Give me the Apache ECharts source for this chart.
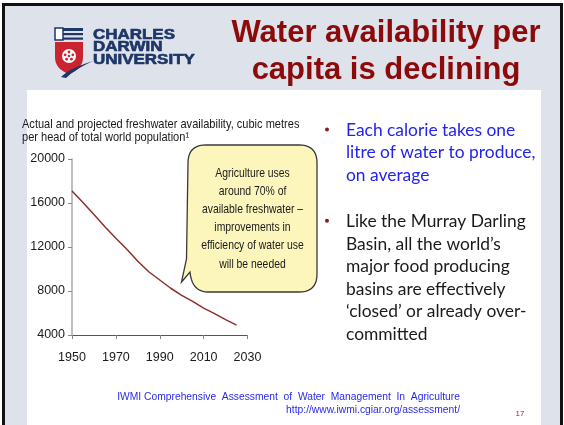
<!DOCTYPE html>
<html>
<head>
<meta charset="utf-8">
<script src="https://cdn.jsdelivr.net/npm/echarts@6/dist/echarts.min.js"></script>
<style>
html,body{margin:0;padding:0;background:#fff;}
#c{width:564px;height:425px;}
</style>
</head>
<body>
<div id="c"></div>
<script>
// ---- data ----
const years = [1950, 1955, 1960, 1965, 1970, 1975, 1980, 1985, 1990, 1995, 2000, 2005, 2010, 2015, 2020, 2025];
const availability = [17100, 16050, 14950, 13850, 12800, 11800, 10700, 9750, 9000, 8250, 7600, 7050, 6450, 5950, 5400, 4900];
const yTicks = [4000, 8000, 12000, 16000, 20000];
const xTicks = [1950, 1970, 1990, 2010, 2030];
const titleLines = ['Water availability per', 'capita is declining'];
const chartTitleLines = ['Actual and projected freshwater availability, cubic metres', 'per head of total world population\u00B9'];
const calloutLines = ['Agriculture uses', 'around 70% of', 'available freshwater \u2013', 'improvements in', 'efficiency of water use', 'will be needed'];
const bullet1 = ['Each calorie takes one', 'litre of water to produce,', 'on average'];
const bullet2 = ['Like the Murray Darling', 'Basin, all the world\u2019s', 'major food producing', 'basins are effectively', '\u2018closed\u2019 or already over-', 'committed'];
const footerLines = ['IWMI Comprehensive  Assessment  of  Water  Management  In  Agriculture', 'http://www.iwmi.cgiar.org/assessment/'];
const pageNumber = '17';

const NAVY = '#1d3567';
const narrow = "'Liberation Sans Narrow','Arial Narrow','Liberation Sans',Arial,sans-serif";

// helper: build polygon points from segments [['M',x,y],['L',x,y],['Q',cx,cy,x,y]]
function pts(segs){
  const out=[]; let cur=[0,0];
  segs.forEach(s=>{
    if(s[0]==='M'||s[0]==='L'){cur=[s[1],s[2]]; out.push(cur);}
    else if(s[0]==='Q'){
      const p0=cur, c=[s[1],s[2]], p1=[s[3],s[4]];
      for(let i=1;i<=10;i++){const t=i/10, u=1-t;
        out.push([u*u*p0[0]+2*u*t*c[0]+t*t*p1[0], u*u*p0[1]+2*u*t*c[1]+t*t*p1[1]]);}
      cur=p1;
    }
  });
  return out;
}

const g = [];
// slide background
g.push({type:'rect', z:-10, shape:{x:0,y:0,width:564,height:425}, style:{fill:'#ffffff'}});
g.push({type:'rect', z:-10, shape:{x:2,y:3,width:561,height:422}, style:{fill:'#111111'}});
g.push({type:'rect', z:-10, shape:{x:5,y:6,width:555,height:419}, style:{fill:'#dee2eb'}});
g.push({type:'rect', z:-10, shape:{x:27,y:90,width:514,height:335}, style:{fill:'#ffffff'}});

// logo
g.push({type:'rect', z:5, shape:{x:55,y:28,width:28,height:3}, style:{fill:NAVY}});
g.push({type:'rect', z:5, shape:{x:55,y:28,width:8,height:12}, style:{fill:'#fff', stroke:NAVY, lineWidth:1.5}});
g.push({type:'rect', z:5, shape:{x:63,y:33,width:20,height:2.2}, style:{fill:NAVY}});
g.push({type:'rect', z:5, shape:{x:63,y:37.5,width:20,height:2.2}, style:{fill:NAVY}});
g.push({type:'polygon', z:5, shape:{points:pts([['M',55,42],['L',83,42],['L',83,57],['Q',83,69,69,74],['Q',55,69,55,57]])}, style:{fill:'#c9242f'}});
g.push({type:'circle', z:6, shape:{cx:69,cy:56,r:7}, style:{fill:'#fff'}});
[[0,-4],[3.8,-1.2],[2.4,3.2],[-2.4,3.2],[-3.8,-1.2]].forEach(p=>{
  g.push({type:'circle', z:7, shape:{cx:69+p[0],cy:56+p[1],r:1.4}, style:{fill:'#c9242f'}});
});
g.push({type:'circle', z:7, shape:{cx:69,cy:56,r:1.3}, style:{fill:'#c9242f'}});
g.push({type:'polygon', z:5, shape:{points:pts([['M',61,77],['Q',70,68,93,61],['Q',74,70,66,78]])}, style:{fill:NAVY}});
[['CHARLES',42],['DARWIN',54.5],['UNIVERSITY',67]].forEach(t=>{
  g.push({type:'text', z:5, x:93, y:t[1], scaleX:1.17, style:{x:0,y:0,text:t[0], font:"900 14.5px 'Liberation Sans',Arial,sans-serif", fill:NAVY, stroke:NAVY, lineWidth:0.6, textAlign:'left', textVerticalAlign:'bottom'}});
});

// slide title
titleLines.forEach((t,i)=>{
  g.push({type:'text', z:5, style:{x:386, y:49+i*37, text:t, font:"bold 31px 'Liberation Sans',Arial,sans-serif", fill:'#8c0a0a', textAlign:'center', textVerticalAlign:'bottom'}});
});

// chart title
chartTitleLines.forEach((t,i)=>{
  g.push({type:'text', z:5, x:22, y:124+i*13, scaleX:0.85, style:{x:0,y:0,text:t, font:"13px 'Liberation Sans',Arial,sans-serif", fill:'#1a1a1a', textAlign:'left', textVerticalAlign:'middle'}});
});

// callout bubble
g.push({type:'polygon', z:20, shape:{points:pts([['M',206,145],['L',299,145],['Q',317,145,317,163],['L',317,274],['Q',317,292,299,292],['L',208,292],['Q',192,292,190,272],['L',181.5,282],['L',186.5,259],['L',188,163],['Q',188,145,206,145]])},
  style:{fill:'#fcf6bd', stroke:'#3a3a3a', lineWidth:1.3}});
calloutLines.forEach((t,i)=>{
  g.push({type:'text', z:21, x:252.5, y:173+i*18.2, scaleX:0.8, style:{x:0,y:0,text:t, font:"13px 'Liberation Sans',Arial,sans-serif", fill:'#1a1a1a', textAlign:'center', textVerticalAlign:'middle'}});
});

// bullets
const bulletFont = "17.4px Lato,'Open Sans',sans-serif";
bullet1.forEach((t,i)=>{
  g.push({type:'text', z:5, style:{x:346, y:130+i*22.8, text:t, font:bulletFont, fill:'#2323ee', textAlign:'left', textVerticalAlign:'middle'}});
});
bullet2.forEach((t,i)=>{
  g.push({type:'text', z:5, style:{x:346, y:221.7+i*22.5, text:t, font:bulletFont, fill:'#1a1a1a', textAlign:'left', textVerticalAlign:'middle'}});
});
[129.5, 220.8].forEach(y=>{
  g.push({type:'circle', z:5, shape:{cx:327,cy:y,r:2}, style:{fill:'#8b1a1a'}});
});

// footer
footerLines.forEach((t,i)=>{
  g.push({type:'text', z:5, x:460, y:397+i*12.5, scaleX:0.895, style:{x:0,y:0,text:t, font:"11.5px 'Liberation Sans',Arial,sans-serif", fill:'#2a2aee', textAlign:'right', textVerticalAlign:'middle'}});
});
g.push({type:'text', z:5, style:{x:520, y:414, text:pageNumber, font:"8px 'Liberation Sans',Arial,sans-serif", fill:'#8b2a2a', textAlign:'center', textVerticalAlign:'middle'}});

const chart = echarts.init(document.getElementById('c'), null, {renderer:'canvas'});
chart.setOption({
  animation:false,
  backgroundColor:'transparent',
  grid:{left:72, top:159, width:175.5, height:176, containLabel:false},
  xAxis:{
    type:'value', min:xTicks[0], max:xTicks[xTicks.length-1], interval:20,
    axisLine:{show:true, lineStyle:{color:'#555', width:1}},
    axisTick:{show:true, length:4, lineStyle:{color:'#888'}},
    axisLabel:{margin:16, color:'#1a1a1a', fontSize:12.5, fontFamily:narrow, formatter:v=>String(v)},
    splitLine:{show:false}
  },
  yAxis:{
    type:'value', min:yTicks[0], max:yTicks[yTicks.length-1], interval:4000,
    axisLine:{show:true, lineStyle:{color:'#aaa', width:1.5}},
    axisTick:{show:true, length:4, lineStyle:{color:'#888'}},
    axisLabel:{margin:7, color:'#1a1a1a', fontSize:12.5, fontFamily:narrow, formatter:v=>String(v)},
    splitLine:{show:false}
  },
  series:[{
    type:'line', data:years.map((y,i)=>[y, availability[i]]),
    showSymbol:false, symbol:'none',
    lineStyle:{color:'#8e2f2a', width:1.5}, z:3
  }],
  graphic:{elements:g}
});
</script>
</body>
</html>
